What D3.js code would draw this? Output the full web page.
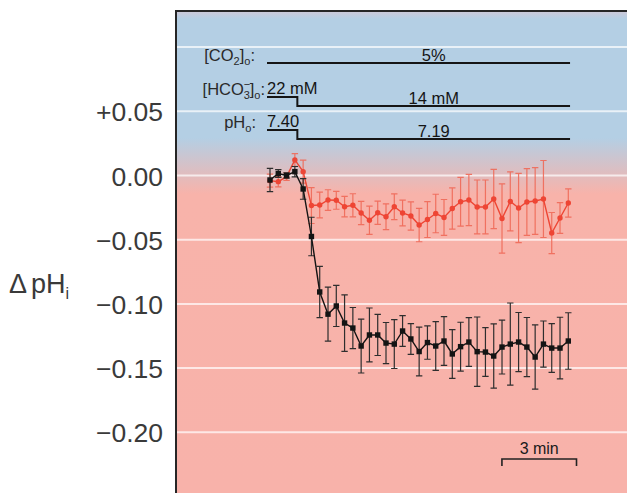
<!DOCTYPE html>
<html>
<head>
<meta charset="utf-8">
<script src="https://cdn.jsdelivr.net/npm/d3@7"></script>
<style>
  html, body { margin: 0; padding: 0; background: #fff; }
  svg { display: block; font-family: "Liberation Sans", Arial, Helvetica, sans-serif; }
</style>
</head>
<body>
<svg id="chart" width="627" height="493"></svg>
<script>
// Sampling times (s) of the intracellular pH recordings
const timeSec = [0, 20, 40, 60, 80, 100, 120, 140, 160, 180, 200, 220, 240, 260, 280, 300, 320, 340,
  360, 380, 400, 420, 440, 460, 480, 500, 520, 540, 560, 580, 600, 620, 640, 660, 680, 700, 720];

// Mean change in pHi and SEM, black trace
const dpHiBlack = [-0.0035, 0.0015, 0.0000, 0.0030, -0.0105, -0.0475, -0.0907, -0.1080, -0.1016, -0.1149,
  -0.1188, -0.1328, -0.1242, -0.1242, -0.1305, -0.1313, -0.1211, -0.1273, -0.1371, -0.1301,
  -0.1328, -0.1289, -0.1390, -0.1333, -0.1297, -0.1372, -0.1375, -0.1406, -0.1336, -0.1313,
  -0.1297, -0.1336, -0.1414, -0.1313, -0.1344, -0.1344, -0.1289];
const semBlack = [0.009, 0.003, 0.002, 0.004, 0.008, 0.015, 0.020, 0.021, 0.016, 0.022,
  0.016, 0.021, 0.021, 0.016, 0.016, 0.019, 0.012, 0.012, 0.019, 0.013,
  0.019, 0.019, 0.019, 0.019, 0.019, 0.027, 0.019, 0.025, 0.021, 0.032,
  0.023, 0.023, 0.025, 0.018, 0.019, 0.024, 0.022];

// Mean change in pHi and SEM, red trace
const dpHiRed = [-0.0040, -0.0048, -0.0009, 0.0121, 0.0030, -0.0234, -0.0230, -0.0191, -0.0193, -0.0243,
  -0.0232, -0.0292, -0.0349, -0.0290, -0.0321, -0.0243, -0.0292, -0.0315, -0.0386, -0.0343,
  -0.0296, -0.0327, -0.0257, -0.0205, -0.0191, -0.0245, -0.0245, -0.0183, -0.0335, -0.0202,
  -0.0253, -0.0206, -0.0199, -0.0183, -0.0448, -0.0331, -0.0214];
const semRed = [0.005, 0.004, 0.003, 0.005, 0.009, 0.014, 0.010, 0.008, 0.007, 0.008,
  0.009, 0.009, 0.011, 0.009, 0.010, 0.010, 0.010, 0.011, 0.013, 0.014,
  0.015, 0.014, 0.016, 0.019, 0.020, 0.021, 0.021, 0.023, 0.027, 0.023,
  0.027, 0.026, 0.026, 0.030, 0.016, 0.012, 0.011];

// Y axis ticks
const tickValues = [0.05, 0.00, -0.05, -0.10, -0.15, -0.20];
const tickLabels = ["+0.05", "0.00", "\u22120.05", "\u22120.10", "\u22120.15", "\u22120.20"];
const gridValues = [0.10, 0.05, 0.00, -0.05, -0.10, -0.15, -0.20];

// Bath solution protocol (times in min)
const solutionBefore = ["5%", "22 mM", "7.40"];
const solutionAfter = ["5%", "14 mM", "7.19"];
const solutionStart = -0.12, solutionSwitch = 1.1, solutionEnd = 12.07;

// Time scale bar (min)
const scaleBarStart = 9.33, scaleBarLength = 3, scaleBarLabel = "3 min";

// ---------------------------------------------------------------
const W = 627, H = 493;
const plotLeft = 176, plotTop = 11;
const svg = d3.select("#chart");

const x = d3.scaleLinear().domain([0, 12]).range([270, 568.3]);
const y = d3.scaleLinear().domain([0, -0.20]).range([175.5, 432.3]);

// Background: blue band fading into red
const defs = svg.append("defs");
const span = H - plotTop;
const grad = defs.append("linearGradient").attr("id", "bg")
  .attr("gradientUnits", "userSpaceOnUse")
  .attr("x1", 0).attr("x2", 0).attr("y1", plotTop).attr("y2", H);
[[plotTop, "#cfc9d8"], [plotTop + 8, "#b4cfe4"], [138, "#b4cfe4"], [194, "#f8b3aa"], [H, "#f8b2aa"]]
  .forEach(([py, c]) => grad.append("stop").attr("offset", (py - plotTop) / span).attr("stop-color", c));

svg.append("rect").attr("x", plotLeft).attr("y", plotTop)
  .attr("width", W - plotLeft).attr("height", H - plotTop).attr("fill", "url(#bg)");

// Grid lines
svg.append("g").selectAll("line").data(gridValues).join("line")
  .attr("x1", plotLeft).attr("x2", W)
  .attr("y1", d => y(d)).attr("y2", d => y(d))
  .attr("stroke", "#ffffff").attr("stroke-opacity", 0.7).attr("stroke-width", 2);

// Y axis labels
const yAxis = d3.axisLeft(y).tickValues(tickValues)
  .tickFormat((d, i) => tickLabels[i]).tickSize(0).tickPadding(13);
const gAxis = svg.append("g").attr("transform", `translate(${plotLeft},0)`).call(yAxis);
gAxis.select(".domain").remove();
gAxis.selectAll("text").attr("font-size", 26.5).attr("fill", "#3a3a3a")
  .attr("font-family", "'Liberation Sans', Arial, sans-serif").attr("dy", "0.36em");

// Y axis title: Δ pHi
const yTitle = svg.append("text").attr("x", 9).attr("y", 292.5)
  .attr("font-size", 27).attr("fill", "#3a3a3a");
yTitle.append("tspan").text("\u0394");
yTitle.append("tspan").attr("dx", 4).text("pH");
yTitle.append("tspan").attr("font-size", 16).attr("dy", 6).text("i");

// Frame (top and left)
svg.append("line").attr("x1", plotLeft).attr("x2", W).attr("y1", plotTop).attr("y2", plotTop)
  .attr("stroke", "#262626").attr("stroke-width", 2.2);
svg.append("line").attr("x1", plotLeft).attr("x2", plotLeft).attr("y1", plotTop - 1).attr("y2", H)
  .attr("stroke", "#262626").attr("stroke-width", 2);

// Solution protocol lines and labels
const rowY = [63, 97, 130], stepDrop = 9;
const nameAnchor = [255, 265, 256];
const annColor = "#151515";
const gAnn = svg.append("g").attr("fill", annColor).attr("font-size", 16.5);

function nameLabel(i) {
  const t = gAnn.append("text").attr("x", nameAnchor[i]).attr("y", rowY[i] - 2.5)
    .attr("text-anchor", "end").attr("fill", "#2a2a2a");
  if (i === 0) {
    t.append("tspan").text("[CO");
    t.append("tspan").attr("font-size", 11).attr("dy", 4).text("2");
    t.append("tspan").attr("dy", -4).text("]");
    t.append("tspan").attr("font-size", 11).attr("dy", 4).text("o");
    t.append("tspan").attr("dy", -4).text(":");
  } else if (i === 1) {
    t.append("tspan").text("[HCO");
    t.append("tspan").attr("font-size", 11).attr("dy", 4).text("3");
    t.append("tspan").attr("font-size", 11).attr("dx", -6.2).attr("dy", -11).text("\u2212");
    t.append("tspan").attr("dy", 7).attr("dx", -0.5).text("]");
    t.append("tspan").attr("font-size", 11).attr("dy", 4).text("o");
    t.append("tspan").attr("dy", -4).text(":");
  } else {
    t.append("tspan").text("pH");
    t.append("tspan").attr("font-size", 11).attr("dy", 4).text("o");
    t.append("tspan").attr("dy", -4).text(":");
  }
}

solutionBefore.forEach((before, i) => {
  nameLabel(i);
  const after = solutionAfter[i];
  const y0 = rowY[i];
  const changes = before !== after;
  const y1 = changes ? y0 + stepDrop : y0;
  const path = d3.path();
  path.moveTo(x(solutionStart), y0);
  path.lineTo(x(solutionSwitch), y0);
  path.lineTo(x(solutionSwitch), y1);
  path.lineTo(x(solutionEnd), y1);
  gAnn.append("path").attr("d", path.toString()).attr("fill", "none")
    .attr("stroke", annColor).attr("stroke-width", 2);
  if (changes) {
    gAnn.append("text").attr("x", x(solutionStart)).attr("y", y0 - 3).text(before);
  }
  gAnn.append("text").attr("x", x((solutionSwitch + solutionEnd) / 2)).attr("y", y1 - 2)
    .attr("text-anchor", "middle").text(after);
});

// Data series
function drawSeries(values, sem, color, barColor, marker) {
  const pts = timeSec.map((t, i) => ({ t: t / 60, v: values[i], e: sem[i] }));
  const g = svg.append("g");
  const cap = 3.2;
  const eb = g.append("g").attr("stroke", barColor).attr("stroke-width", 1.2).attr("fill", "none");
  eb.selectAll("path").data(pts).join("path")
    .attr("d", d => {
      const xx = x(d.t), yt = y(d.v + d.e), yb = y(d.v - d.e);
      return `M${xx},${yt}V${yb}M${xx - cap},${yt}H${xx + cap}M${xx - cap},${yb}H${xx + cap}`;
    });
  g.append("path").datum(pts)
    .attr("d", d3.line().x(d => x(d.t)).y(d => y(d.v)))
    .attr("fill", "none").attr("stroke", color).attr("stroke-width", 1.4);
  if (marker === "square") {
    g.selectAll("rect").data(pts).join("rect")
      .attr("x", d => x(d.t) - 2.7).attr("y", d => y(d.v) - 2.7)
      .attr("width", 5.4).attr("height", 5.4).attr("fill", color);
  } else {
    g.selectAll("circle").data(pts).join("circle")
      .attr("cx", d => x(d.t)).attr("cy", d => y(d.v)).attr("r", 2.7).attr("fill", color);
  }
  return g;
}

drawSeries(dpHiRed, semRed, "#ee3a28", "#f06a58", "circle").attr("opacity", 0.9);
drawSeries(dpHiBlack, semBlack, "#141414", "#2e2e2e", "square");

// Time scale bar
const sb0 = x(scaleBarStart), sb1 = x(scaleBarStart + scaleBarLength);
svg.append("path").attr("d", `M${sb0},466V459H${sb1}V466`)
  .attr("fill", "none").attr("stroke", "#222").attr("stroke-width", 1.6);
svg.append("text").attr("x", (sb0 + sb1) / 2).attr("y", 453.5).attr("text-anchor", "middle")
  .attr("font-size", 16).attr("fill", "#1a1a1a").text(scaleBarLabel);
</script>
</body>
</html>
